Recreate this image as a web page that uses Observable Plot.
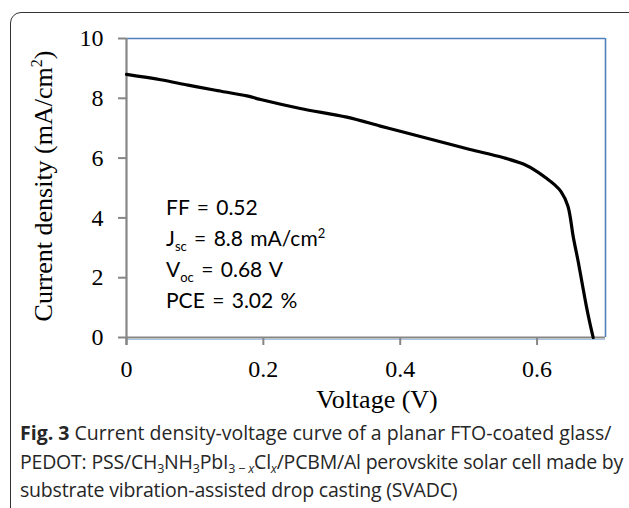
<!DOCTYPE html>
<html>
<head>
<meta charset="utf-8">
<script src="https://cdn.jsdelivr.net/npm/d3@7"></script>
<script src="https://cdn.jsdelivr.net/npm/@observablehq/plot@0.6"></script>
<style>
  html, body { margin: 0; padding: 0; background: #fff; }
  #wrap { position: relative; width: 629px; height: 508px; overflow: hidden; background: #fff; }
  #frame { position: absolute; left: 10px; top: 12px; width: 640px; height: 560px;
           border: 1.6px solid #333; border-radius: 11px; box-sizing: border-box; }
  #chart { position: absolute; left: 0; top: 0; }
  #annot { position: absolute; left: 166px; top: 191px; font-family: Lato, sans-serif;
           font-size: 21px; line-height: 31px; color: #000; word-spacing: 2px; }
  #annot sub { font-size: 13px; vertical-align: -5px; line-height: 0; word-spacing: 0; }
  #annot sup { font-size: 13px; vertical-align: 8px; line-height: 0; }
  #caption { position: absolute; left: 20px; top: 419px; width: 620px; font-family: "Open Sans", sans-serif;
             font-size: 19.5px; line-height: 28.5px; color: #262626; white-space: nowrap; letter-spacing: -0.2px; }
  #caption .l1 { letter-spacing: 0px; }
  #caption b { font-weight: 700; }
  #caption sub { font-size: 12.5px; vertical-align: -4px; line-height: 0; }
</style>
</head>
<body>
<div id="wrap">
  <div id="frame"></div>
  <div id="chart"></div>
  <div id="annot">
    <div>FF = 0.52</div>
    <div>J<sub>sc</sub> = 8.8 mA/cm<sup>2</sup></div>
    <div>V<sub>oc</sub> = 0.68 V</div>
    <div>PCE = 3.02 %</div>
  </div>
  <div id="caption">
    <div class="l1"><b>Fig. 3</b> Current density-voltage curve of a planar FTO-coated glass/</div>
    <div>PEDOT: PSS/CH<sub>3</sub>NH<sub>3</sub>PbI<sub>3 − <i>x</i></sub>Cl<sub><i>x</i></sub>/PCBM/Al perovskite solar cell made by</div>
    <div>substrate vibration-assisted drop casting (SVADC)</div>
  </div>
</div>
<script>
const voltage = [0, 0.05, 0.09, 0.13, 0.176, 0.196, 0.254, 0.322, 0.371, 0.4, 0.463, 0.502, 0.55, 0.58, 0.6, 0.615, 0.625, 0.635, 0.645, 0.653, 0.66, 0.666, 0.672, 0.677, 0.682];
const current = [8.80, 8.62, 8.44, 8.27, 8.08, 7.96, 7.66, 7.37, 7.07, 6.90, 6.52, 6.29, 6.02, 5.80, 5.55, 5.30, 5.12, 4.88, 4.40, 3.35, 2.55, 1.80, 1.05, 0.50, 0];
const xTicks = [0, 0.2, 0.4, 0.6];
const yTicks = [0, 2, 4, 6, 8, 10];
const xDomain = [0, 0.7];
const yDomain = [0, 10];

const data = voltage.map((v, i) => ({v, j: current[i]}));

const chart = Plot.plot({
  width: 629,
  height: 415,
  marginLeft: 126,
  marginRight: 24,
  marginTop: 38,
  marginBottom: 78,
  style: {fontFamily: "'Liberation Serif', 'Times New Roman', serif", background: "transparent", overflow: "visible"},
  x: {domain: xDomain},
  y: {domain: yDomain},
  marks: [
    Plot.ruleY([yDomain[1]], {stroke: "#4F81BD", strokeWidth: 1.6}),
    Plot.ruleX([xDomain[1]], {stroke: "#4F81BD", strokeWidth: 1.6}),
    Plot.ruleY([0], {stroke: "#A9C3E3", strokeWidth: 1.2, dy: 2}),
    Plot.ruleY([0], {stroke: "#868686", strokeWidth: 2}),
    Plot.ruleX([0], {y1: -0.27, y2: 10, stroke: "#868686", strokeWidth: 2.2}),
    Plot.axisX({ticks: xTicks, tickSize: 8, tickPadding: 14, stroke: "#868686", fill: "#000", strokeWidth: 2,
      fontSize: 24, tickFormat: d => d === 0 ? "0" : d.toFixed(1), label: null}),
    Plot.axisY({ticks: yTicks, tickSize: 8, tickPadding: 15, stroke: "#868686", fill: "#000", strokeWidth: 2,
      fontSize: 24, label: null}),
    Plot.line(data, {x: "v", y: "j", stroke: "#000", strokeWidth: 3.2, curve: "catmull-rom"})
  ]
});

const svg = d3.select(chart);
svg.append("text")
  .attr("x", 377).attr("y", 408)
  .attr("text-anchor", "middle")
  .attr("font-size", 26)
  .attr("fill", "#000")
  .attr("font-family", "'Liberation Serif', serif")
  .text("Voltage (V)");
const yl = svg.append("text")
  .attr("transform", "translate(52,186) rotate(-90)")
  .attr("text-anchor", "middle")
  .attr("font-size", 26)
  .attr("fill", "#000")
  .attr("font-family", "'Liberation Serif', serif");
yl.append("tspan").text("Current density (mA/cm");
yl.append("tspan").attr("font-size", 16).attr("dy", -10).text("2");
yl.append("tspan").attr("dy", 10).text(")");

document.getElementById("chart").appendChild(chart);
</script>
</body>
</html>
